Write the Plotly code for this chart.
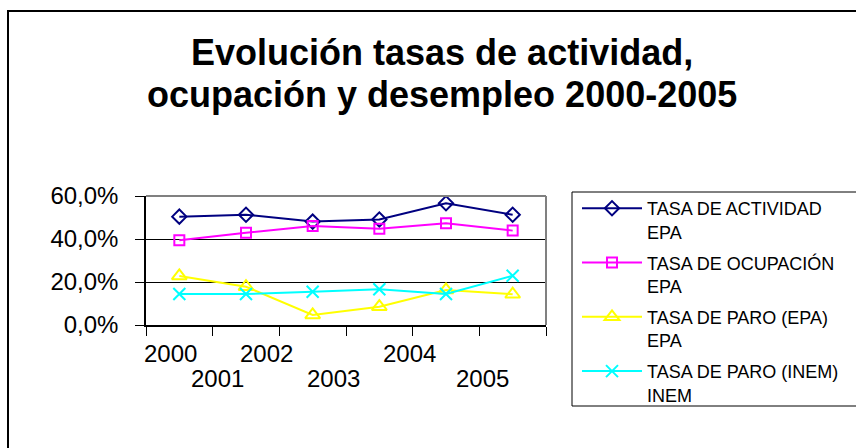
import plotly.graph_objects as go

years = ["2000", "2001", "2002", "2003", "2004", "2005"]
actividad = [50.4, 51.3, 48.1, 49.1, 56.6, 51.3]
ocupacion = [39.4, 42.9, 46.0, 44.8, 47.3, 43.9]
paro_epa = [22.8, 17.8, 4.7, 8.5, 16.3, 14.3]
paro_inem = [14.4, 14.4, 15.5, 16.6, 14.4, 22.9]
series_names = ["TASA DE ACTIVIDAD<br>EPA", "TASA DE OCUPACIÓN<br>EPA",
                "TASA DE PARO (EPA)<br>EPA", "TASA DE PARO (INEM)<br>INEM"]
y_ticks = [0, 20, 40, 60]
y_ticktext = ["0,0%", "20,0%", "40,0%", "60,0%"]
title_lines = ["Evolución tasas de actividad,", "ocupación y desempleo 2000-2005"]

# layout helpers (label placement, not data)
label_shift = [-0.135, -0.435, -0.69, -0.69, -0.555, -0.45]
label_row = [0, 1, 0, 1, 0, 1]

W, H = 856, 448
L, R, T, B = 146, 546, 196, 325
FONT = "Liberation Sans, Arial"

def px(x):
    return (x - L) / (R - L)

def py(y):
    return (B - y) / (B - T)

xs = list(range(len(years)))
styles = [
    dict(color="#000080", symbol="diamond-open", size=11),
    dict(color="#FF00FF", symbol="square-open", size=10),
    dict(color="#FFFF00", symbol="triangle-up-open", size=13),
    dict(color="#00FFFF", symbol="x-thin-open", size=12),
]
data = [actividad, ocupacion, paro_epa, paro_inem]

fig = go.Figure()
for i, (vals, name, st) in enumerate(zip(data, series_names, styles)):
    fig.add_trace(go.Scatter(
        x=xs, y=vals, name=name, mode="lines+markers", legendgroup=f"g{i}",
        line=dict(color=st["color"], width=2),
        marker=dict(symbol=st["symbol"], size=st["size"], color=st["color"],
                    line=dict(color=st["color"], width=2)),
    ))

annotations = []
for i, yr in enumerate(years):
    annotations.append(dict(
        x=i + label_shift[i], y=py(353 if label_row[i] == 0 else 378),
        xref="x", yref="paper", text=yr, showarrow=False,
        xanchor="center", yanchor="middle",
        font=dict(family=FONT, size=24, color="black"),
    ))
for j, (line_text, ymid) in enumerate(zip(title_lines, [53, 95])):
    annotations.append(dict(
        x=px(442), y=py(ymid), xref="paper", yref="paper",
        text=f"<b>{line_text}</b>", showarrow=False,
        xanchor="center", yanchor="middle",
        font=dict(family=FONT, size=36, color="black"),
    ))

shapes = [
    # outer chart border (cropped on right/bottom)
    dict(type="rect", xref="paper", yref="paper", x0=px(8), x1=px(870), y0=py(460), y1=py(11),
         line=dict(color="black", width=2), layer="below"),
    # plot area border top/right gray
    dict(type="line", xref="paper", yref="paper", x0=0, x1=1, y0=1, y1=1,
         line=dict(color="#808080", width=2)),
    dict(type="line", xref="paper", yref="paper", x0=1, x1=1, y0=0, y1=1,
         line=dict(color="#808080", width=2)),
    # legend box
    dict(type="rect", xref="paper", yref="paper", x0=px(572), x1=px(870), y0=py(406), y1=py(192),
         line=dict(color="black", width=1)),
]

fig.update_layout(
    width=W, height=H,
    margin=dict(l=L, r=W - R, t=T, b=H - B),
    paper_bgcolor="white", plot_bgcolor="white",
    font=dict(family=FONT, color="black"),
    xaxis=dict(range=[-0.5, len(years) - 0.5],
               tickvals=[i - 0.5 for i in range(len(years) + 1)],
               showticklabels=False, ticks="outside", ticklen=9, tickcolor="black",
               showgrid=False, zeroline=False, showline=True, linecolor="black", linewidth=1.5,
               fixedrange=True),
    yaxis=dict(range=[0, 60], tickvals=y_ticks, ticktext=y_ticktext,
               ticks="outside", ticklen=9, tickcolor="black", ticklabelstandoff=12,
               tickfont=dict(size=24), showgrid=True, gridcolor="black", gridwidth=1,
               zeroline=False, showline=True, linecolor="black", linewidth=1.5),
    legend=dict(x=px(577), y=py(190), xanchor="left", yanchor="top",
                font=dict(size=18), valign="top", tracegroupgap=4.5,
                itemwidth=60, maxheight=400,
                bgcolor="rgba(0,0,0,0)", borderwidth=0),
    annotations=annotations,
    shapes=shapes,
)

fig.write_html("out.html", config={"displayModeBar": False},
               post_script="document.body.style.margin='0';")
